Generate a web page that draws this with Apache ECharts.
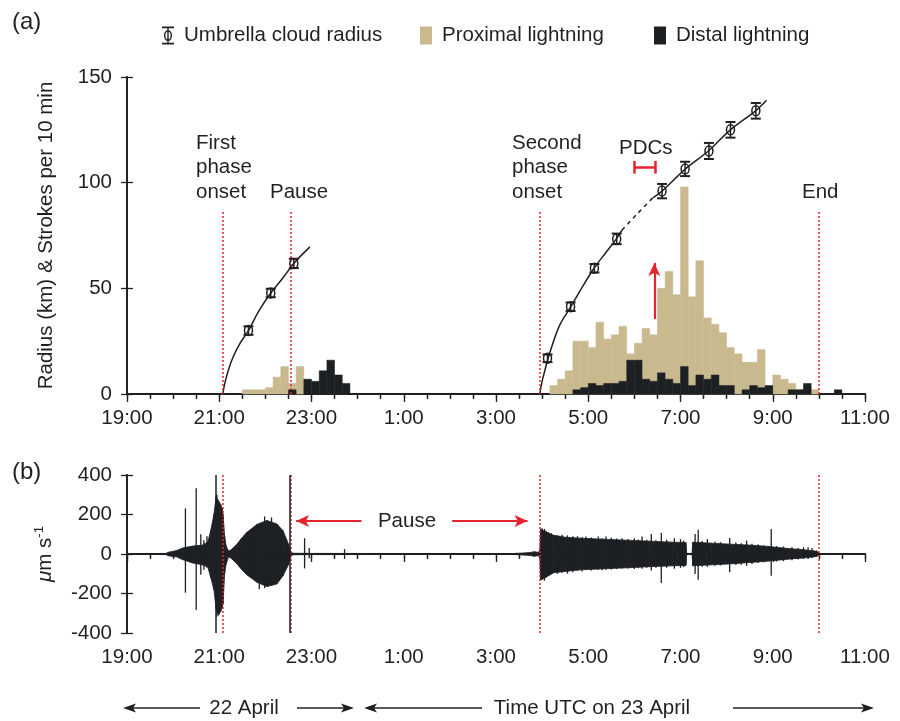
<!DOCTYPE html>
<html><head><meta charset="utf-8">
<script src="https://cdn.jsdelivr.net/npm/echarts@6/dist/echarts.min.js"></script>
<style>html,body{margin:0;padding:0;background:#fff}#c{width:900px;height:721px}</style>
</head><body><div id="c"></div>
<script>
// ---------- DATA ----------
const xTickLabels = ['19:00','21:00','23:00','1:00','3:00','5:00','7:00','9:00','11:00'];

// Proximal lightning, strokes per 10 min (bin start, UTC)
const proximalTimes = ['21:30','21:40','21:50','22:00','22:10','22:20','22:30','22:40',
  '4:10','4:20','4:30','4:40','4:50','5:00','5:10','5:20','5:30','5:40',
  '5:50','6:00','6:10','6:20','6:30','6:40','6:50','7:00','7:10','7:20',
  '7:30','7:40','7:50','8:00','8:10','8:20','8:30','8:40','8:50','9:00',
  '9:10','9:20','9:30','9:40','9:50'];
const proximalCounts = [2,2,2,3,8,13,5,13,
  4,7,11,25,25,22,34,26,28,32,
  19,24,31,28,50,58,47,98,46,63,
  36,33,29,22,19,15,15,21,3,9,
  7,5,2,3,2];

// Distal lightning, strokes per 10 min
const distalTimes = ['22:30','22:50','23:00','23:10','23:20','23:30','23:40',
  '4:40','4:50','5:00','5:10','5:20','5:30','5:40','5:50','6:00','6:10','6:20',
  '6:30','6:40','6:50','7:00','7:10','7:20','7:30','7:40','7:50','8:00',
  '8:20','8:30','8:40','8:50','9:20','9:30','9:40','10:20'];
const distalCounts = [2,7,6,11,16,9,5,
  2,3,5,4,5,5,6,16,16,7,6,
  10,7,5,13,4,9,7,9,4,4,
  2,4,3,4,2,2,5,2];

// Umbrella cloud radius (km) with error
const radiusTimes = ['21:38','22:07','22:37','4:07','4:37','5:08','5:37','6:36','7:06','7:37','8:05','8:38'];
const radiusKm    = [30, 47.8, 61.8, 16.9, 41.3, 59.5, 73.4, 96, 106.5, 115, 125, 134];
const radiusErr   = [2, 2, 2.2, 1.8, 2, 2, 2.5, 3.4, 3.4, 3.8, 3.7, 3.7];

// Fitted curves
const fit1Times = ['21:04.6','21:07.2','21:12','21:18','21:27','21:38','21:51','22:07','22:23','22:37','22:58'];
const fit1Km    = [0, 5, 11.5, 17.5, 24, 30, 39, 47.8, 55, 61.8, 69.6];
const fit2aTimes = ['3:57','3:59.4','4:02.6','4:07.9','4:22','4:37.3','4:52','5:07.5','5:22','5:36.5','5:44'];
const fit2aKm    = [0, 5, 9.8, 17, 31.9, 41.3, 50.5, 59.5, 66.5, 73.4, 77.6];
const fit2bTimes = ['5:44','6:03','6:24'];
const fit2bKm    = [77.6, 85, 92.8];
const fit2cTimes = ['6:24','6:36','7:06.5','7:36.7','8:04.9','8:37.7','8:52'];
const fit2cKm    = [92.8, 96, 106.5, 115.1, 125, 134, 139];

// Event times
const onsetLines = ['21:04.6','22:33','3:57','10:00'];
const blackLinesB = ['20:56','22:32'];

// Seismic amplitude envelope (um/s)
const seisTimes = ['19:10','19:50','19:55','20:05','20:12','20:25','20:38','20:45','20:49','20:53','20:56','20:59','21:02','21:05','21:07','21:09','21:12',
  '21:15','21:22','21:29','21:36','21:49','22:02','22:15','22:23','22:30','22:33','22:36','23:00','3:20','3:35','3:45','3:50','3:55','3:57',
  '3:58','4:05','4:15','4:30','4:50','5:20','5:50','6:20','6:50','7:07','7:08','7:15','7:16','7:40','8:05','8:30','8:55','9:20','9:40','9:55','10:00'];
const seisUp   = [2,3,10,18,30,40,45,60,120,200,290,270,250,200,90,40,15,
  20,45,80,110,150,170,152,118,51,10,4,3,2,5,8,12,8,20,
  125,112,95,85,80,75,70,65,60,58,3,3,60,55,50,45,38,28,22,15,8];
const seisDown = [-2,-3,-10,-15,-28,-45,-55,-65,-120,-180,-280,-310,-290,-250,-100,-50,-15,
  -20,-46,-78,-106,-143,-165,-152,-110,-55,-10,-4,-3,-2,-5,-8,-12,-8,-20,
  -130,-118,-95,-88,-80,-75,-70,-64,-60,-58,-3,-3,-60,-55,-50,-43,-36,-26,-20,-14,-6];

// Individual spikes / peaks (um/s)
const spikeTimes = ['20:16','20:30','20:36','20:40','20:44','20:57','21:04','21:52','21:59','22:08','22:51','22:57','23:43',
  '4:00','4:03','4:05','4:08','4:12','4:20','4:26','4:33','4:40','4:46','4:52','4:57','5:04','5:13','5:18','5:23','5:30','5:37','5:44',
  '5:52','6:00','6:05','6:10','6:16','6:22','6:28','6:35','6:42','6:52','7:00','7:04','7:19','7:23','7:28','7:35','7:45','7:52',
  '8:04','8:12','8:19','8:26','8:33','8:41','8:48','8:58','9:05','9:14','9:25','9:33','9:40','9:46','9:51','9:57'];
const spikeUp   = [231,333,100,70,90,300,233,150,190,185,80,30,25,
  130,127,118,110,105,94,98,94,90,90,86,88,84,89,80,89,82,78,80,
  76,80,74,89,72,101,70,106,72,80,75,68,101,123,66,76,62,60,
  81,58,55,68,52,50,44,127,40,38,34,30,34,34,30,18];
const spikeDown = [-196,-284,-105,-80,-70,-317,-274,-178,-173,-160,-73,-22,-25,
  -132,-135,-110,-112,-100,-100,-95,-100,-92,-85,-88,-80,-84,-80,-82,-80,-78,-76,-74,
  -74,-76,-72,-75,-70,-84,-70,-147,-70,-75,-70,-66,-101,-130,-64,-65,-60,-58,
  -93,-56,-54,-60,-50,-45,-42,-110,-38,-36,-32,-28,-25,-25,-20,-14];

// ---------- HELPERS ----------
const FONT = '"Liberation Sans", Arial, Helvetica, sans-serif';
const FS = 20.5;
const ink = '#231f20', tan = '#c9b98e', dark = '#1d2023', red = '#e3242f';
const parseT = s => { const [H, M] = s.split(':').map(Number); return ((H - 19 + 24) % 24) + M / 60; };
const BIN = 1 / 6;

const proxData = proximalTimes.map((t, i) => [parseT(t), parseT(t) + BIN, proximalCounts[i]]);
const distData = distalTimes.map((t, i) => [parseT(t), parseT(t) + BIN, distalCounts[i]]);
const radiusData = radiusTimes.map((t, i) => [parseT(t), radiusKm[i], radiusErr[i]]);
const toLine = (ts, vs) => ts.map((t, i) => [parseT(t), vs[i]]);
const seisData = [];
for (let i = 0; i < seisTimes.length - 1; i++) {
  seisData.push([parseT(seisTimes[i]), seisUp[i], seisDown[i], parseT(seisTimes[i + 1]), seisUp[i + 1], seisDown[i + 1]]);
}
const spikeData = spikeTimes.map((t, i) => [parseT(t), spikeUp[i], spikeDown[i]]);

function barRender(color) {
  return function (params, api) {
    const p0 = api.coord([api.value(0), 0]);
    const p1 = api.coord([api.value(1), api.value(2)]);
    return { type: 'rect', shape: { x: p0[0], y: p1[1], width: p1[0] - p0[0], height: p0[1] - p1[1] },
      style: { fill: color, stroke: color, lineWidth: 0.5 } };
  };
}

const axisLine = { show: true, lineStyle: { color: ink, width: 1.8 } };
const tickStyle = { color: ink, width: 1.3 };
function xAxes(grid) {
  return [
    { type: 'value', gridIndex: grid, position: 'bottom', min: 0, max: 16, interval: 2,
      axisLine, splitLine: { show: false },
      axisTick: { show: true, inside: false, length: 8, lineStyle: tickStyle },
      minorTick: { show: true, splitNumber: 4, length: 4, lineStyle: tickStyle },
      axisLabel: { show: true, margin: 14, color: ink, fontSize: FS, fontFamily: FONT,
        formatter: v => xTickLabels[Math.round(v / 2)] } },
    { type: 'value', gridIndex: grid, position: 'top', min: 0, max: 16, interval: 2,
      axisLine, splitLine: { show: false },
      axisTick: { show: true, inside: true, length: 5, lineStyle: tickStyle },
      minorTick: { show: true, splitNumber: 4, length: 5, lineStyle: tickStyle },
      axisLabel: { show: false } }
  ];
}
function yAxes(grid, min, max, interval, name, nameStyle) {
  return [
    { type: 'value', gridIndex: grid, position: 'left', min, max, interval,
      axisLine, splitLine: { show: false },
      axisTick: { show: true, inside: true, length: 6, lineStyle: tickStyle },
      axisLabel: { margin: 15, color: ink, fontSize: FS, fontFamily: FONT },
      name, nameLocation: 'middle', nameRotate: 90, nameGap: 70, nameTextStyle: nameStyle },
    { type: 'value', gridIndex: grid, position: 'right', min, max, interval,
      axisLine, splitLine: { show: false },
      axisTick: { show: true, inside: true, length: 6, lineStyle: tickStyle },
      axisLabel: { show: false } }
  ];
}

function vLine(t, y0, y1, style) {
  return [{ coord: [parseT(t), y0], lineStyle: style }, { coord: [parseT(t), y1] }];
}
const dotted = { color: red, width: 1.5, type: [2, 2] };

const umbrellaIcon = 'path://M0,0H12V1.8H0Z M0,16.2H12V18H0Z M5.3,0H6.7V18H5.3Z M6,3.5A4,5.5 0 1 1 6,14.5A4,5.5 0 1 1 6,3.5Z M6,5A2.6,4 0 1 0 6,13A2.6,4 0 1 0 6,5Z';

function hArrow(x1, x2, y, head) {
  const els = [{ type: 'line', shape: { x1: head === 'left' ? x1 + 6 : x1, y1: y, x2: head === 'right' ? x2 - 6 : x2, y2: y },
    style: { stroke: ink, lineWidth: 1.5 } }];
  const pts = head === 'left' ? [[x1, y], [x1 + 13, y - 4.5], [x1 + 10, y], [x1 + 13, y + 4.5]]
                              : [[x2, y], [x2 - 13, y - 4.5], [x2 - 10, y], [x2 - 13, y + 4.5]];
  els.push({ type: 'polygon', shape: { points: pts }, style: { fill: ink } });
  return els;
}
function txt(text, x, y, align, vAlign, size) {
  return { type: 'text', x, y, style: { text, fill: ink, fontSize: size || FS, fontFamily: FONT,
    align: align || 'left', verticalAlign: vAlign || 'middle', lineHeight: 24.5 } };
}
const fitStyle = { color: ink, width: 1.5 };

// ---------- CHART ----------
const chart = echarts.init(document.getElementById('c'), null, { renderer: 'canvas' });
const option = {
  animation: false,
  backgroundColor: '#fff',
  grid: [
    { left: 127, top: 77, width: 738, height: 317 },
    { left: 127, top: 475, width: 738, height: 158 }
  ],
  legend: [
    { left: 157, top: 20, itemWidth: 12, itemHeight: 18, selectedMode: false,
      textStyle: { fontSize: FS, color: ink, fontFamily: FONT, padding: [0, 0, 0, 5] },
      data: [{ name: 'Umbrella cloud radius', icon: umbrellaIcon, itemStyle: { color: ink } }] },
    { left: 415, top: 20, itemWidth: 12, itemHeight: 18, selectedMode: false,
      textStyle: { fontSize: FS, color: ink, fontFamily: FONT, padding: [0, 0, 0, 5] },
      data: [{ name: 'Proximal lightning', icon: 'rect', itemStyle: { color: tan } }] },
    { left: 649, top: 20, itemWidth: 12, itemHeight: 18, selectedMode: false,
      textStyle: { fontSize: FS, color: ink, fontFamily: FONT, padding: [0, 0, 0, 5] },
      data: [{ name: 'Distal lightning', icon: 'rect', itemStyle: { color: dark } }] }
  ],
  xAxis: [...xAxes(0), ...xAxes(1)],
  yAxis: [
    ...yAxes(0, 0, 150, 50, 'Radius (km) & Strokes per 10 min',
      { fontSize: FS, color: ink, fontFamily: FONT }),
    ...yAxes(1, -400, 400, 200, '{mu|\u03bc}m s{sup|-1}',
      { fontSize: FS, color: ink, fontFamily: FONT,
        rich: { mu: { fontSize: FS, fontStyle: 'italic', fontFamily: FONT, color: ink },
                sup: { fontSize: 13, fontFamily: FONT, color: ink, verticalAlign: 'top', lineHeight: 24 } } })
  ],
  series: [
    { name: 'Proximal lightning', type: 'custom', xAxisIndex: 0, yAxisIndex: 0, z: 1,
      itemStyle: { color: tan }, renderItem: barRender(tan), encode: { x: [0, 1], y: 2 }, data: proxData, silent: true },
    { name: 'Distal lightning', type: 'custom', xAxisIndex: 0, yAxisIndex: 0, z: 2,
      itemStyle: { color: dark }, renderItem: barRender(dark), encode: { x: [0, 1], y: 2 }, data: distData, silent: true },
    { type: 'line', xAxisIndex: 0, yAxisIndex: 0, z: 4, data: toLine(fit1Times, fit1Km), smooth: 0.35,
      symbol: 'none', lineStyle: fitStyle, silent: true },
    { type: 'line', xAxisIndex: 0, yAxisIndex: 0, z: 4, data: toLine(fit2aTimes, fit2aKm), smooth: 0.35,
      symbol: 'none', lineStyle: fitStyle, silent: true },
    { type: 'line', xAxisIndex: 0, yAxisIndex: 0, z: 4, data: toLine(fit2bTimes, fit2bKm), smooth: 0.35,
      symbol: 'none', lineStyle: { color: ink, width: 1.5, type: [4, 4] }, silent: true },
    { type: 'line', xAxisIndex: 0, yAxisIndex: 0, z: 4, data: toLine(fit2cTimes, fit2cKm), smooth: 0.35,
      symbol: 'none', lineStyle: fitStyle, silent: true },
    { name: 'Umbrella cloud radius', type: 'custom', xAxisIndex: 0, yAxisIndex: 0, z: 6, silent: true,
      itemStyle: { color: ink }, encode: { x: 0, y: 1 }, data: radiusData,
      renderItem: function (params, api) {
        const t = api.value(0), v = api.value(1), e = api.value(2);
        const c = api.coord([t, v]), top = api.coord([t, v + e]), bot = api.coord([t, v - e]);
        const hw = 5;
        return { type: 'group', children: [
          { type: 'line', shape: { x1: c[0], y1: top[1], x2: c[0], y2: bot[1] }, style: { stroke: ink, lineWidth: 1.5 } },
          { type: 'line', shape: { x1: c[0] - hw, y1: top[1], x2: c[0] + hw, y2: top[1] }, style: { stroke: ink, lineWidth: 2 } },
          { type: 'line', shape: { x1: c[0] - hw, y1: bot[1], x2: c[0] + hw, y2: bot[1] }, style: { stroke: ink, lineWidth: 2 } },
          { type: 'ellipse', shape: { cx: c[0], cy: c[1], rx: 4, ry: 5 }, style: { fill: 'rgba(255,255,255,0)', stroke: ink, lineWidth: 1.5 } }
        ] };
      } },
    // annotations panel (a)
    { type: 'line', xAxisIndex: 0, yAxisIndex: 0, z: 7, data: [[0, 0], [16, 0]], symbol: 'none',
      lineStyle: { opacity: 0 }, silent: true,
      markLine: { silent: true, symbol: 'none', label: { show: false }, animation: false,
        data: [
          ...onsetLines.map(t => vLine(t, 0, 87, dotted)),
          [{ coord: [parseT('6:26'), 35.5], lineStyle: { color: red, width: 2.2, type: 'solid' }, symbol: 'none' },
           { coord: [parseT('6:26'), 62], symbol: 'arrow', symbolSize: [9, 13] }],
          [{ coord: [parseT('5:59.4'), 107.3], lineStyle: { color: red, width: 2.5, type: 'solid' } }, { coord: [parseT('6:26.6'), 107.3] }],
          vLine('5:59.4', 104.3, 110.3, { color: red, width: 2.5, type: 'solid' }),
          vLine('6:26.6', 104.3, 110.3, { color: red, width: 2.5, type: 'solid' })
        ] } },
    // seismic
    { type: 'custom', xAxisIndex: 2, yAxisIndex: 2, z: 2, silent: true, data: seisData,
      encode: { x: [0, 3], y: [1, 2] },
      renderItem: function (params, api) {
        const a = api.coord([api.value(0), api.value(1)]), b = api.coord([api.value(3), api.value(4)]);
        const c = api.coord([api.value(3), api.value(5)]), d = api.coord([api.value(0), api.value(2)]);
        return { type: 'polygon', shape: { points: [a, b, c, d] }, style: { fill: dark, stroke: dark, lineWidth: 0.8 } };
      } },
    { type: 'custom', xAxisIndex: 2, yAxisIndex: 2, z: 3, silent: true, data: spikeData,
      encode: { x: 0, y: [1, 2] },
      renderItem: function (params, api) {
        const a = api.coord([api.value(0), api.value(1)]), b = api.coord([api.value(0), api.value(2)]);
        return { type: 'line', shape: { x1: a[0], y1: a[1], x2: b[0], y2: b[1] }, style: { stroke: dark, lineWidth: 1.3 } };
      } },
    // annotations panel (b)
    { type: 'line', xAxisIndex: 2, yAxisIndex: 2, z: 7, data: [[0, 0], [16, 0]], symbol: 'none',
      lineStyle: { opacity: 0 }, silent: true,
      markLine: { silent: true, symbol: 'none', label: { show: false }, animation: false,
        data: [
          ...onsetLines.map(t => vLine(t, -400, 400, dotted)),
          ...blackLinesB.map(t => vLine(t, -400, 400, { color: ink, width: 1.5, type: 'solid' })),
          [{ coord: [parseT('22:40'), 167], lineStyle: { color: red, width: 2, type: 'solid' }, symbol: 'arrow', symbolSize: [9, 13] },
           { coord: [parseT('0:05'), 167], symbol: 'none' }],
          [{ coord: [parseT('2:03'), 167], lineStyle: { color: red, width: 2, type: 'solid' }, symbol: 'none' },
           { coord: [parseT('3:41'), 167], symbol: 'arrow', symbolSize: [9, 13] }]
        ] } }
  ],
  graphic: [
    txt('(a)', 12, 22, 'left', 'middle', 24),
    txt('(b)', 12, 472, 'left', 'middle', 24),
    txt('First\nphase\nonset', 196, 131, 'left', 'top'),
    txt('Pause', 270, 192),
    txt('Second\nphase\nonset', 512, 131, 'left', 'top'),
    txt('PDCs', 619, 148),
    txt('End', 802, 192),
    txt('Pause', 407, 521, 'center'),
    txt('22 April', 244, 708, 'center'),
    txt('Time UTC on 23 April', 592, 708, 'center'),
    ...hArrow(123, 200, 708, 'left'),
    ...hArrow(297, 354, 708, 'right'),
    ...hArrow(364, 482, 708, 'left'),
    ...hArrow(733, 874, 708, 'right')
  ]
};
chart.setOption(option);
</script>
</body></html>
